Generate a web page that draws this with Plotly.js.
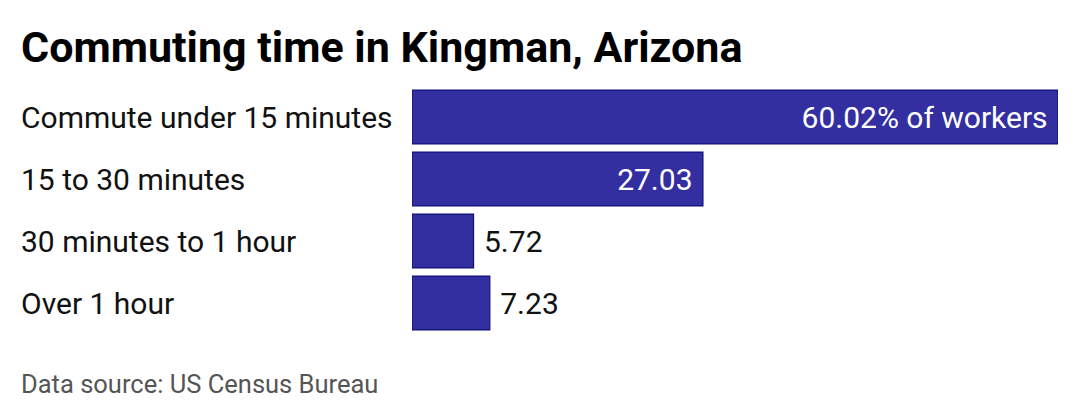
<!DOCTYPE html>
<html>
<head>
<meta charset="utf-8">
<script src="https://cdn.plot.ly/plotly-3.0.1.min.js"></script>
<style>
  html, body { margin: 0; padding: 0; background: #fff; }
  #chart { width: 1080px; height: 420px; }
</style>
</head>
<body>
<div id="chart"></div>
<script>
const categories = ['Commute under 15 minutes', '15 to 30 minutes', '30 minutes to 1 hour', 'Over 1 hour'];
const shares = [60.02, 27.03, 5.72, 7.23];
const valueLabels = ['60.02% of workers', '27.03', '5.72', '7.23'];
const labelPlacement = ['inside', 'inside', 'outside', 'outside'];

const FONT = 'Roboto, "Noto Sans", sans-serif';
const NB = '\u00a0';

// pad the value labels a little away from the bar end
const paddedLabels = valueLabels.map((t, i) =>
    labelPlacement[i] === 'inside' ? t + NB : NB + t);

const trace = {
    type: 'bar',
    orientation: 'h',
    x: shares,
    y: categories,
    text: paddedLabels,
    textposition: labelPlacement,
    insidetextanchor: 'end',
    insidetextfont: { family: FONT, size: 30, color: '#ffffff' },
    outsidetextfont: { family: FONT, size: 30, color: '#111111' },
    textangle: 0,
    cliponaxis: false,
    marker: { color: '#332fa0', line: { color: '#10107a', width: 1.2 } },
    hoverinfo: 'none'
};

// category labels drawn left-aligned at the left edge of the figure
const rowLabels = categories.map(c => ({
    text: c,
    xref: 'paper', yref: 'y',
    x: 0, y: c,
    xanchor: 'left', yanchor: 'middle',
    xshift: -393,
    showarrow: false,
    font: { family: FONT, size: 30, color: '#111111' }
}));

const layout = {
    width: 1080,
    height: 420,
    margin: { l: 412, r: 22, t: 86, b: 86 },
    paper_bgcolor: '#ffffff',
    plot_bgcolor: '#ffffff',
    showlegend: false,
    bargap: 0.13,
    title: {
        text: '<b>Commuting time in Kingman, Arizona</b>',
        xref: 'container', yref: 'container',
        x: 21 / 1080, xanchor: 'left',
        y: 1 - 47 / 420, yanchor: 'middle',
        font: { family: FONT, size: 43, color: '#000000' }
    },
    xaxis: {
        range: [0, 60.02],
        visible: false,
        fixedrange: true
    },
    yaxis: {
        autorange: 'reversed',
        showticklabels: false,
        showgrid: false,
        zeroline: false,
        fixedrange: true
    },
    annotations: rowLabels.concat([{
        text: 'Data source: US Census Bureau',
        xref: 'paper', yref: 'paper',
        x: 0, y: 0,
        xanchor: 'left', yanchor: 'middle',
        xshift: -393, yshift: -50,
        showarrow: false,
        font: { family: FONT, size: 25.5, color: '#555555' }
    }])
};

Plotly.newPlot('chart', [trace], layout, { displayModeBar: false, staticPlot: true });
</script>
</body>
</html>
